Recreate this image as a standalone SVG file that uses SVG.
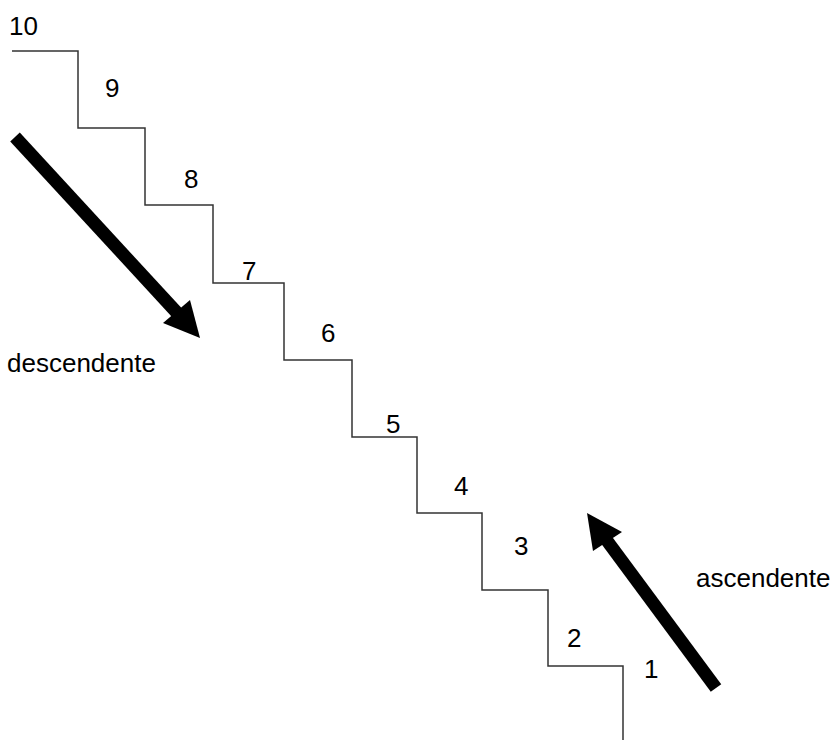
<svg xmlns="http://www.w3.org/2000/svg" width="836" height="740" viewBox="0 0 836 740">
<style>
text{font-family:"Liberation Sans",Arial,sans-serif;font-size:26px;fill:#000}
.stair{fill:none;stroke:#333;stroke-width:1.5}
.arrow{fill:#000}
</style>
<rect width="836" height="740" fill="#fff"/>
<g id="stairs">
<path class="stair" d="M12 51H78V128H145V205H213V283H284V360H352V437H417V513H482V590H548V666H623V740"/>
</g>
<g id="labels">
<text x="9" y="35">10</text>
<text x="105" y="97">9</text>
<text x="184" y="188">8</text>
<text x="242" y="280">7</text>
<text x="321" y="342">6</text>
<text x="386" y="433">5</text>
<text x="454" y="495">4</text>
<text x="514" y="555">3</text>
<text x="567" y="647">2</text>
<text x="644" y="678">1</text>
</g>
<g id="descendente">
<line x1="15" y1="137" x2="180" y2="316" stroke="#000" stroke-width="13"/>
<polygon class="arrow" points="200,338 163,323 190,300"/>
<text x="7" y="372">descendente</text>
</g>
<g id="ascendente">
<line x1="716" y1="688" x2="605" y2="538" stroke="#000" stroke-width="13"/>
<polygon class="arrow" points="587,513 593,551 622,532"/>
<text x="696" y="587">ascendente</text>
</g>
</svg>
